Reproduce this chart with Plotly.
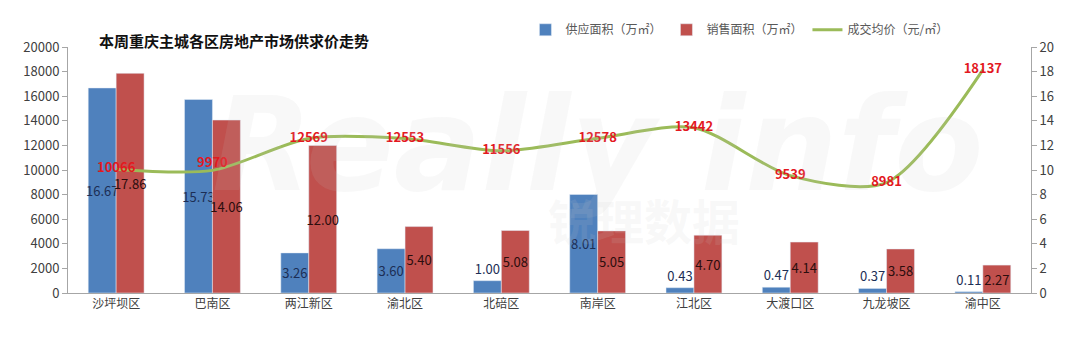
import plotly.graph_objects as go

categories = ["沙坪坝区", "巴南区", "两江新区", "渝北区", "北碚区", "南岸区", "江北区", "大渡口区", "九龙坡区", "渝中区"]
supply = [16.67, 15.73, 3.26, 3.60, 1.00, 8.01, 0.43, 0.47, 0.37, 0.11]
sales = [17.86, 14.06, 12.00, 5.40, 5.08, 5.05, 4.70, 4.14, 3.58, 2.27]
price = [10066, 9970, 12569, 12553, 11556, 12578, 13442, 9539, 8981, 18137]

BLUE = "#4f81bd"
RED = "#c0504d"
GREEN = "#9bbb59"
FONT = "Noto Sans CJK SC"

def pos(vals):
    return ["inside" if v >= 2 else "outside" for v in vals]

fig = go.Figure()
fig.add_trace(go.Bar(
    name="供应面积（万㎡）", x=categories, y=supply, marker_color=BLUE,
    text=[f"{v:.2f}" for v in supply], textposition=pos(supply), textangle=0,
    insidetextanchor="middle", constraintext="none", cliponaxis=False,
    textfont=dict(family=FONT, size=13, color="#1c2e55"), yaxis="y",
))
fig.add_trace(go.Bar(
    name="销售面积（万㎡）", x=categories, y=sales, marker_color=RED,
    text=[f"{v:.2f}" for v in sales], textposition=pos(sales), textangle=0,
    insidetextanchor="middle", constraintext="none", cliponaxis=False,
    textfont=dict(family=FONT, size=13, color="#2b0d0d"), yaxis="y",
))
fig.add_trace(go.Scatter(
    name="成交均价（元/㎡）", x=categories, y=price, mode="lines+text",
    line=dict(color=GREEN, width=3, shape="spline", smoothing=0.8),
    text=[str(v) for v in price],
    textposition=["middle center" if i != 1 else "top center" for i in range(len(price))],
    textfont=dict(family=FONT, size=13, color="#e3191f", weight="bold"),
    yaxis="y2", cliponaxis=False,
))

axis_common = dict(
    showgrid=False, zeroline=False, showline=True, linecolor="#a6a6a6", linewidth=1,
    ticks="outside", ticklen=5, tickcolor="#a6a6a6", tickformat="d",
    tickfont=dict(family=FONT, size=13, color="#404040"),
)

fig.update_layout(
    width=1080, height=337,
    margin=dict(l=68, r=49, t=47, b=44, autoexpand=False),
    paper_bgcolor="white", plot_bgcolor="white",
    barmode="group", bargap=0.42, bargroupgap=0,
    showlegend=True,
    legend=dict(orientation="h", x=0.475, y=1.07, xanchor="left", yanchor="middle",
                font=dict(family=FONT, size=12, color="#595959"),
                itemwidth=30, traceorder="normal", bgcolor="rgba(0,0,0,0)"),
    xaxis=dict(showgrid=False, showline=True, linecolor="#a6a6a6", ticks="",
               tickfont=dict(family=FONT, size=12, color="#404040")),
    yaxis=dict(range=[0, 20], dtick=2, side="right", **axis_common),
    yaxis2=dict(range=[0, 20000], dtick=2000, side="left", overlaying="y", **axis_common),
    annotations=[
        dict(text="<b>本周重庆主城各区房地产市场供求价走势</b>", xref="paper", yref="paper",
             x=0.03, y=1.028, xanchor="left", yanchor="middle", showarrow=False,
             font=dict(family=FONT, size=15, color="#111111")),
        dict(text="<i><b>Really info</b></i>", xref="paper", yref="paper",
             x=0.55, y=0.6, showarrow=False,
             font=dict(family="DejaVu Sans", size=130, color="rgba(200,200,200,0.12)")),
        dict(text="<b>锐理数据</b>", xref="paper", yref="paper",
             x=0.70, y=0.15, showarrow=False,
             font=dict(family=FONT, size=48, color="rgba(200,200,200,0.12)")),
    ],
)

fig.write_html("out.html")
